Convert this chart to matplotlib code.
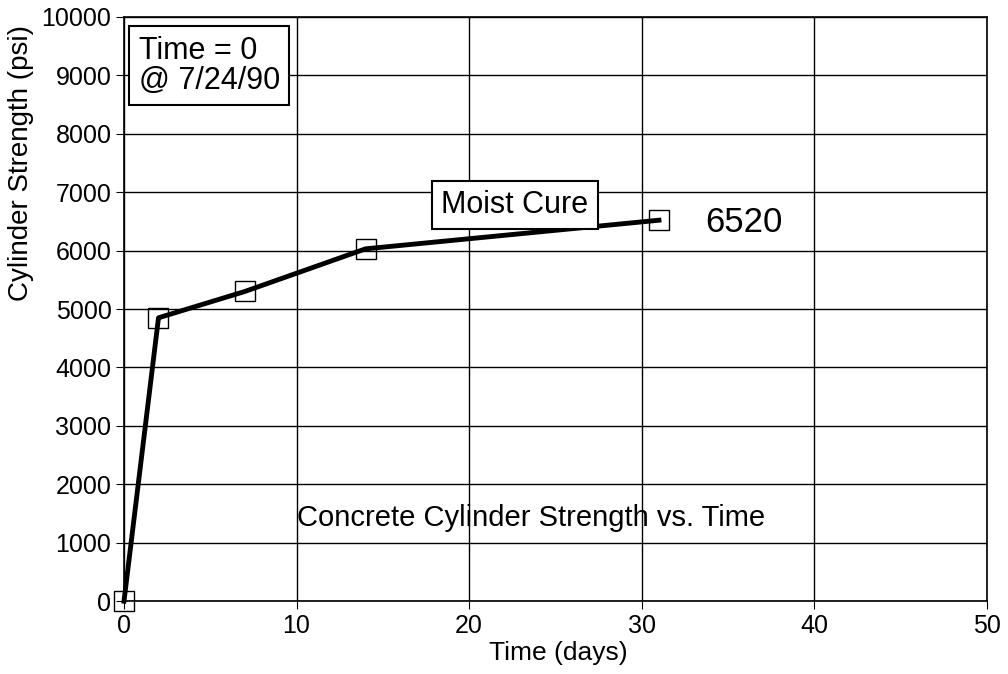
import matplotlib
matplotlib.use("Agg")
import matplotlib.pyplot as plt

plt.rcParams['font.family'] = ['Liberation Sans', 'DejaVu Sans']

days = [0, 2, 7, 14, 31]
strength = [0, 4850, 5300, 6030, 6520]
x_ticks = [0, 10, 20, 30, 40, 50]
y_ticks = list(range(0, 10001, 1000))

fig = plt.figure(figsize=(10.08, 6.74), dpi=100)
ax = fig.add_axes([0.123, 0.108, 0.856, 0.867])

ax.plot(days, strength, color='black', lw=3.5, zorder=3, clip_on=False)
ax.plot(days, strength, linestyle='none', marker='s', markersize=15,
        mfc='none', mec='black', mew=1, zorder=4, clip_on=False)

ax.set_xlim(0, 50)
ax.set_ylim(0, 10000)
ax.set_xticks(x_ticks)
ax.set_yticks(y_ticks)
ax.tick_params(labelsize=18, direction='out', length=6, color='black', pad=3)
ax.grid(True, color='black', lw=1)
for s in ax.spines.values():
    s.set_linewidth(1.2)

fig.text(558 / 1008, 1 - 653 / 674, 'Time (days)', fontsize=19,
         ha='center', va='center')
ax.set_ylabel('Cylinder Strength (psi)', fontsize=20)
ax.yaxis.set_label_coords(-0.104, 0.75)

ax.text(0.017, 0.968, 'Time = 0\n@ 7/24/90', transform=ax.transAxes,
        fontsize=22, va='top', ha='left', linespacing=1.0,
        bbox=dict(boxstyle='square,pad=0.3', fc='white', ec='black', lw=1.5), zorder=5)
ax.text(22.65, 6780, 'Moist Cure', fontsize=22, ha='center', va='center',
        bbox=dict(boxstyle='square,pad=0.3', fc='white', ec='black', lw=1.5), zorder=5)
ax.text(33.7, 6480, '6520', fontsize=25, ha='left', va='center')
ax.text(23.6, 1420, 'Concrete Cylinder Strength vs. Time', fontsize=21,
        ha='center', va='center')

fig.savefig('out.png', dpi=100)
